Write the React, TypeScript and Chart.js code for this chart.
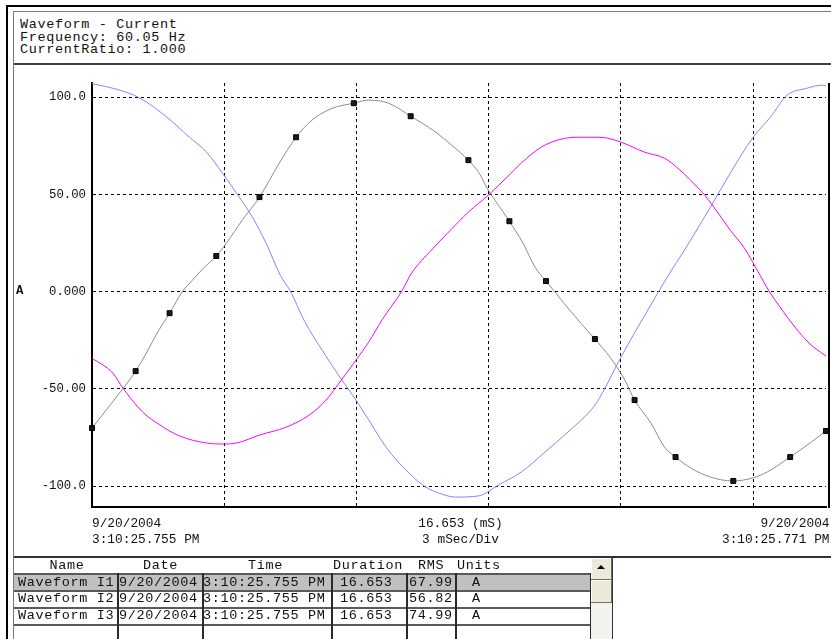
import React, { useEffect, useRef } from "react";
import { Chart, registerables } from "chart.js";

Chart.register(...registerables);

// ---------- data ----------
const headerLines = ["Waveform - Current", "Frequency: 60.05 Hz", "CurrentRatio: 1.000"];

const durationMs = 16.653;
const yMin = -110.8;
const yMax = 107.3;
const yTickValues = [-100, -50, 0, 50, 100];
const yTickLabels = ["-100.0", "-50.00", "0.000", "50.00", "100.0"];
const xGridTimes = [3, 6, 9, 12, 15];
const yUnit = "A";

const startLabel = ["9/20/2004", "3:10:25.755 PM"];
const centerLabel = ["16.653 (mS)", "3 mSec/Div"];
const endLabel = ["9/20/2004", "3:10:25.771 PM"];

// I1 (gray, with markers)
const i1Times = [0, 0.5, 0.99, 1.27, 1.45, 1.76, 2.06, 2.28, 2.53, 2.82, 3.05, 3.41, 3.8, 4.25, 4.63, 4.99, 5.45, 5.94, 6.28, 6.73, 7.23, 7.8, 8.16, 8.54, 8.77, 8.99, 9.22, 9.47, 9.78, 10.05, 10.3, 10.48, 10.8, 11.09, 11.41, 11.75, 12.09, 12.31, 12.68, 12.99, 13.24, 13.58, 14.03, 14.55, 15.0, 15.32, 15.84, 16.29, 16.653];
const i1Values = [-70.2, -55.8, -40.9, -30.1, -22.4, -11.1, 0.3, 5.9, 12.1, 18.3, 24.9, 36.8, 48.6, 66.1, 79.4, 88.2, 94.3, 96.9, 98.5, 96.9, 90.2, 82.0, 75.3, 67.6, 61.4, 52.2, 44.5, 36.2, 24.9, 12.6, 5.4, 0.4, -8.5, -16.2, -24.4, -33.7, -45.5, -55.8, -67.6, -80.0, -85.1, -90.7, -95.4, -97.4, -95.8, -92.8, -85.1, -77.9, -71.7];
const i1MarkerTimes = [0, 0.99, 1.76, 2.82, 3.8, 4.63, 5.94, 7.23, 8.54, 9.47, 10.3, 11.41, 12.31, 13.24, 14.55, 15.84, 16.653];
const i1MarkerValues = [-70.2, -40.9, -11.1, 18.3, 48.6, 79.4, 96.9, 90.2, 67.6, 36.2, 5.4, -24.4, -55.8, -85.1, -97.4, -85.1, -71.7];

// I2 (magenta)
const i2Times = [0, 0.47, 0.7, 1.15, 1.54, 1.99, 2.6, 2.96, 3.28, 3.8, 4.41, 4.93, 5.31, 5.54, 5.99, 6.28, 6.58, 7.03, 7.25, 7.7, 8.09, 8.54, 8.99, 9.44, 9.74, 10.19, 10.64, 11.03, 11.48, 11.7, 12.0, 12.54, 12.99, 13.29, 13.58, 13.9, 14.19, 14.48, 14.8, 15.09, 15.36, 15.66, 15.95, 16.27, 16.653];
const i2Values = [-34.2, -41.9, -49.6, -62.0, -68.6, -74.3, -77.9, -78.4, -77.9, -73.8, -69.7, -63.5, -55.8, -49.1, -35.2, -25.9, -14.6, 0.3, 9.5, 21.3, 30.6, 40.9, 49.6, 59.4, 66.1, 74.3, 78.4, 79.4, 79.4, 78.9, 76.9, 71.7, 68.6, 63.5, 57.3, 49.6, 40.9, 31.6, 22.4, 11.1, 0.3, -9.5, -18.3, -26.5, -33.2];

// I3 (blue)
const i3Times = [0, 0.63, 1.09, 1.7, 2.21, 2.6, 2.96, 3.34, 3.64, 3.95, 4.27, 4.5, 4.81, 5.22, 5.67, 5.99, 6.28, 6.67, 7.19, 7.57, 7.93, 8.25, 8.77, 9.22, 9.74, 10.28, 10.8, 11.41, 11.64, 11.93, 12.29, 12.56, 12.83, 13.08, 13.44, 14.03, 14.48, 15.0, 15.39, 15.77, 16.22, 16.56, 16.653];
const i3Values = [107.0, 103.6, 99.5, 89.7, 79.4, 71.7, 60.9, 48.6, 38.3, 24.9, 8.5, 0.3, -14.7, -30.1, -45.5, -55.8, -66.1, -80.0, -93.3, -100.5, -104.1, -105.7, -105.1, -99.5, -92.8, -82.5, -72.2, -58.4, -49.6, -36.8, -22.0, -11.5, -1.0, 8.5, 21.3, 43.4, 60.9, 79.4, 89.7, 101.0, 104.6, 106.2, 105.7];

// table
const tableHeaders = ["Name", "Date", "Time", "Duration", "RMS", "Units"];
const rowNames = ["Waveform I1", "Waveform I2", "Waveform I3"];
const rowDates = ["9/20/2004", "9/20/2004", "9/20/2004"];
const rowTimes = ["3:10:25.755 PM", "3:10:25.755 PM", "3:10:25.755 PM"];
const rowDurations = ["16.653", "16.653", "16.653"];
const rowRms = ["67.99", "56.82", "74.99"];
const rowUnits = ["A", "A", "A"];

// ---------- layout ----------
const MONO = "'Liberation Mono', 'Courier New', monospace";
const toPoints = (ts: number[], vs: number[]) => ts.map((t, i) => ({ x: t, y: vs[i] }));

function abs(left: number, top: number, extra: React.CSSProperties = {}): React.CSSProperties {
  return { position: "absolute", left, top, ...extra };
}

const tableText: React.CSSProperties = {
  fontFamily: MONO,
  fontSize: 13.5,
  letterSpacing: 0.65,
  lineHeight: "16px",
  whiteSpace: "pre",
  color: "#111",
};

const axisText: React.CSSProperties = {
  fontFamily: MONO,
  fontSize: 12.8,
  lineHeight: "16px",
  whiteSpace: "pre",
  color: "#111",
};

function WaveChart() {
  const ref = useRef<HTMLCanvasElement | null>(null);
  useEffect(() => {
    if (!ref.current) return;
    const gridCommon = { color: "#000", lineWidth: 1, drawTicks: false };
    const borderCommon = { display: true, color: "#000", width: 2, dash: [3, 3] };
    const chart = new Chart(ref.current, {
      type: "line",
      data: {
        datasets: [
          {
            label: "I1 markers",
            data: toPoints(i1MarkerTimes, i1MarkerValues),
            showLine: false,
            pointStyle: "rect",
            pointRadius: 3.5,
            backgroundColor: "#1a1a1a",
            borderColor: "#000",
            borderWidth: 1,
            clip: 8,
          },
          {
            label: "Waveform I1",
            data: toPoints(i1Times, i1Values),
            borderColor: "#8c8c8c",
            borderWidth: 1,
            pointRadius: 0,
            cubicInterpolationMode: "monotone",
          },
          {
            label: "Waveform I2",
            data: toPoints(i2Times, i2Values),
            borderColor: "#ff00ff",
            borderWidth: 1,
            pointRadius: 0,
            cubicInterpolationMode: "monotone",
          },
          {
            label: "Waveform I3",
            data: toPoints(i3Times, i3Values),
            borderColor: "#8585ff",
            borderWidth: 1,
            pointRadius: 0,
            cubicInterpolationMode: "monotone",
          },
        ],
      },
      options: {
        responsive: false,
        animation: false,
        events: [],
        layout: { padding: { left: 0, top: 17, right: 2, bottom: 49 } },
        plugins: { legend: { display: false }, tooltip: { enabled: false } },
        scales: {
          x: {
            type: "linear",
            min: 0,
            max: durationMs,
            afterBuildTicks: (s: any) => {
              s.ticks = xGridTimes.map((v) => ({ value: v }));
            },
            ticks: { display: false },
            grid: gridCommon,
            border: borderCommon,
            afterFit: (s: any) => {
              s.height = 0;
            },
          },
          y: {
            type: "linear",
            min: yMin,
            max: yMax,
            afterBuildTicks: (s: any) => {
              s.ticks = yTickValues.map((v) => ({ value: v }));
            },
            ticks: {
              padding: 6,
              color: "#111",
              font: { family: MONO, size: 12.3 },
              callback: (v: any) => {
                const i = yTickValues.indexOf(Number(v));
                return i >= 0 ? yTickLabels[i] : "";
              },
            },
            grid: gridCommon,
            border: borderCommon,
            afterFit: (s: any) => {
              s.width = 78;
            },
          },
        },
      },
    } as any);
    return () => chart.destroy();
  }, []);
  return <canvas ref={ref} width={817} height={490} style={{ position: "absolute", left: 14, top: 66, width: 817, height: 490 }} />;
}

const colLines = [117, 202, 331, 406, 455, 590];
const headerLefts = [49.5, 143, 248, 333, 418, 457];
const rowTops = [574.5, 591, 608];
const rowLines = [573, 590, 607, 623.5];

export default function App() {
  useEffect(() => {
    document.body.style.margin = "0";
  }, []);
  return (
    <div style={{ position: "absolute", left: 0, top: 0, width: 831, height: 639, overflow: "hidden", background: "#fff" }}>
      {/* outer frames */}
      <div style={abs(6, 5, { width: 1000, height: 1000, borderLeft: "2px solid #000", borderTop: "2px solid #000" })} />
      <div style={abs(13, 11, { width: 1000, height: 1000, borderLeft: "1px solid #7a7a7a", borderTop: "1px solid #7a7a7a" })} />

      {/* header text */}
      {headerLines.map((t, i) => (
        <div key={i} style={abs(20, 17 + i * 12.5, { ...tableText })}>{t}</div>
      ))}
      <div style={abs(14, 63, { width: 817, height: 2, background: "#404040" })} />

      {/* chart */}
      <WaveChart />
      <div style={abs(828, 83, { width: 2, height: 425, background: "#000" })} />
      <div style={abs(16, 283, { ...axisText, fontSize: 12.3, fontWeight: "bold" })}>{yUnit}</div>

      {/* x-axis texts */}
      {startLabel.map((t, i) => (
        <div key={"s" + i} style={abs(92, 516 + i * 15.5, axisText)}>{t}</div>
      ))}
      {centerLabel.map((t, i) => (
        <div key={"c" + i} style={abs(360.5, 516 + i * 15.5, { ...axisText, width: 200, textAlign: "center" })}>{t}</div>
      ))}
      {endLabel.map((t, i) => (
        <div key={"e" + i} style={abs(629.5, 516 + i * 15.5, { ...axisText, width: 200, textAlign: "right" })}>{t}</div>
      ))}

      {/* table */}
      <div style={abs(14, 556, { width: 817, height: 2, background: "#333" })} />
      <div style={abs(14, 575, { width: 576, height: 15, background: "#c0c0c0" })} />
      {rowLines.map((y, i) => (
        <div key={"rl" + i} style={abs(14, y, { width: 577, height: 2, background: "#5a5a5a" })} />
      ))}
      {colLines.map((x, i) => (
        <div key={"cl" + i} style={abs(x, 573, { width: 1.5, height: 70, background: "#2a2a2a" })} />
      ))}
      {tableHeaders.map((h, i) => (
        <div key={"h" + i} style={abs(headerLefts[i], 558, tableText)}>{h}</div>
      ))}
      {rowNames.map((n, r) => (
        <React.Fragment key={"r" + r}>
          <div style={abs(18, rowTops[r], tableText)}>{n}</div>
          <div style={abs(119, rowTops[r], tableText)}>{rowDates[r]}</div>
          <div style={abs(203, rowTops[r], tableText)}>{rowTimes[r]}</div>
          <div style={abs(340, rowTops[r], tableText)}>{rowDurations[r]}</div>
          <div style={abs(409, rowTops[r], tableText)}>{rowRms[r]}</div>
          <div style={abs(472, rowTops[r], tableText)}>{rowUnits[r]}</div>
        </React.Fragment>
      ))}

      {/* scrollbar */}
      <div style={abs(591, 558, { width: 21, height: 81, background: "#f3f2ec" })} />
      <div style={abs(591, 558, { width: 20, height: 21, background: "#ece9d8", borderRight: "1px solid #716f64", borderBottom: "1px solid #716f64", boxShadow: "inset 1px 1px 0 #fff" })} />
      <div style={abs(597, 565, { width: 0, height: 0, borderLeft: "4px solid transparent", borderRight: "4px solid transparent", borderBottom: "4px solid #000" })} />
      <div style={abs(591, 580, { width: 20, height: 22, background: "#ece9d8", borderRight: "1px solid #716f64", borderBottom: "1px solid #716f64", boxShadow: "inset 1px 1px 0 #fff" })} />
      <div style={abs(612, 556, { width: 1, height: 83, background: "#333" })} />
    </div>
  );
}
